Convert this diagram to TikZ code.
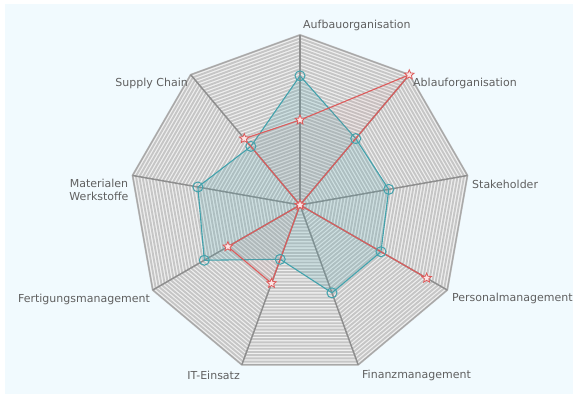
\documentclass[tikz,border=0pt]{standalone}
\usepackage{fontspec}
\setmainfont{DejaVu Sans}
\usetikzlibrary{shapes.geometric}
\definecolor{bg}{HTML}{F1FAFE}
\definecolor{gridfill}{HTML}{F0F0F0}
\definecolor{gridline}{HTML}{C6C6C6}
\definecolor{spoke}{HTML}{8E8E8E}
\definecolor{teal1}{HTML}{42A2AC}
\definecolor{red1}{HTML}{DD5B5B}
\definecolor{lab}{HTML}{606060}
\tikzset{
  bmark/.style={circle, draw=teal1, line width=1pt, minimum size=10pt, inner sep=0pt},
  rmark/.style={star, star points=5, star point ratio=2.2, draw=red1, fill=red1!15, line width=0.8pt, minimum size=10pt, inner sep=0pt},
  lbl/.style={text=lab, inner sep=0pt, font=\fontsize{11}{13}\selectfont},
  spokeline/.style={draw=spoke, line width=1.5pt},
  ring/.style={draw=gridline, line width=1.9pt}
}
\begin{document}
\begin{tikzpicture}[x=1pt,y=-1pt]
\useasboundingbox (0,0) rectangle (578,398);
\fill[white] (0,0) rectangle (578,398);
\fill[bg] (5,4) rectangle (573,394);
\begin{scope}[shift={(300,205)}]
  \coordinate (O) at (0,0);
  \foreach \k in {0,...,8} { \coordinate (v\k) at ({40*\k-90}:170); }
  \fill[gridfill] (v0) -- (v1) -- (v2) -- (v3) -- (v4) -- (v5) -- (v6) -- (v7) -- (v8) -- cycle;
  \foreach \i in {1,...,50} {
    \pgfmathsetmacro{\r}{\i*3.4}
    \draw[ring] (-90:\r) \foreach \k in {1,...,8} { -- ({40*\k-90}:\r) } -- cycle;
  }
  \draw[draw=gridline!85!black, line width=1.2pt] (v0) -- (v1) -- (v2) -- (v3) -- (v4) -- (v5) -- (v6) -- (v7) -- (v8) -- cycle;
  \foreach \k in {0,...,8} { \draw[spokeline] (O) -- (v\k); }
  % blue series
  \foreach \v [count=\k from 0] in {0.76,0.51,0.53,0.55,0.55,0.34,0.65,0.61,0.45} {
    \coordinate (bp\k) at ({40*\k-90}:{\v*170});
  }
  \fill[teal1, opacity=0.18] (bp0) -- (bp1) -- (bp2) -- (bp3) -- (bp4) -- (bp5) -- (bp6) -- (bp7) -- (bp8) -- cycle;
  \draw[teal1, line width=1.1pt, line join=round] (bp0) -- (bp1) -- (bp2) -- (bp3) -- (bp4) -- (bp5) -- (bp6) -- (bp7) -- (bp8) -- cycle;
  % red series
  \foreach \v [count=\k from 0] in {0.5,1.0,0,0.86,0,0.49,0.49,0,0.51} {
    \coordinate (rp\k) at ({40*\k-90}:{\v*170});
  }
  \fill[red1, opacity=0.06] (rp0) -- (rp1) -- (rp2) -- (rp3) -- (rp4) -- (rp5) -- (rp6) -- (rp7) -- (rp8) -- cycle;
  \draw[red1, line width=1.1pt, line join=round] (rp0) -- (rp1) -- (rp2) -- (rp3) -- (rp4) -- (rp5) -- (rp6) -- (rp7) -- (rp8) -- cycle;
  \foreach \k in {0,...,8} { \node[bmark] (b\k) at (bp\k) {}; }
  \foreach \k in {0,...,8} { \node[rmark] (r\k) at (rp\k) {}; }
\end{scope}
\node[lbl, anchor=west] (l0) at (303,25) {Aufbauorganisation};
\node[lbl, anchor=west] (l1) at (413,83) {Ablauforganisation};
\node[lbl, anchor=west] (l2) at (472,184) {Stakeholder};
\node[lbl, anchor=west] (l3) at (452,298) {Personalmanagement};
\node[lbl, anchor=west] (l4) at (362,375) {Finanzmanagement};
\node[lbl, anchor=east] (l5) at (240,375) {IT-Einsatz};
\node[lbl, anchor=east] (l6) at (150,299) {Fertigungsmanagement};
\node[lbl, align=center, font=\fontsize{11}{13}\selectfont] (l7) at (99,190) {Materialen\\Werkstoffe};
\node[lbl, anchor=east] (l8) at (188,83) {Supply Chain};
\end{tikzpicture}
\end{document}
